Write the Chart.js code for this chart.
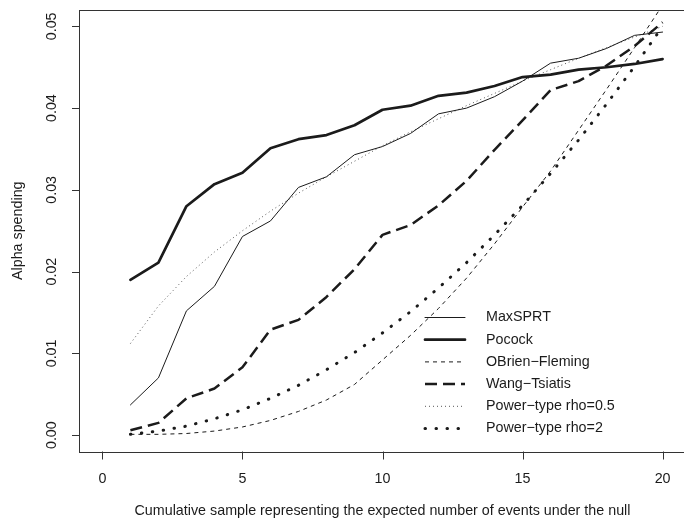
<!DOCTYPE html>
<html>
<head>
<meta charset="utf-8">
<script src="https://cdn.jsdelivr.net/npm/chart.js@4/dist/chart.umd.min.js"></script>
<style>
  html, body { margin: 0; padding: 0; background: #fff; overflow: hidden; }
  #wrap { width: 684px; height: 521px; overflow: hidden; }
  canvas { display: block; }
</style>
</head>
<body>
<div id="wrap"><canvas id="c" width="700" height="521"></canvas></div>
<script>
// Cumulative sample (expected number of events under the null)
const events = [1, 2, 3, 4, 5, 6, 7, 8, 9, 10, 11, 12, 13, 14, 15, 16, 17, 18, 19, 20];

// Alpha spent by each design at each look
const maxSPRT = [0.0037, 0.0070, 0.0152, 0.0182, 0.0243, 0.0262, 0.0303, 0.0316, 0.0343, 0.0353,
                 0.0369, 0.0393, 0.0400, 0.0414, 0.0433, 0.0455, 0.0461, 0.0473, 0.0489, 0.0493];
const pocock  = [0.0190, 0.0211, 0.0280, 0.0307, 0.0321, 0.0351, 0.0362, 0.0367, 0.0379, 0.0398,
                 0.0403, 0.0415, 0.0419, 0.0427, 0.0438, 0.0441, 0.0447, 0.0450, 0.0454, 0.0460];
const obrienFleming = [0.0001, 0.0001, 0.0002, 0.0005, 0.0010, 0.0018, 0.0029, 0.0043, 0.0062, 0.0092,
                 0.0122, 0.0155, 0.0192, 0.0234, 0.0279, 0.0323, 0.0373, 0.0423, 0.0474, 0.0526];
const wangTsiatis = [0.0006, 0.0015, 0.0045, 0.0057, 0.0083, 0.0129, 0.0141, 0.0169, 0.0203, 0.0245,
                 0.0257, 0.0281, 0.0311, 0.0349, 0.0385, 0.0422, 0.0433, 0.0452, 0.0476, 0.0505];
const powerRho05 = [0.0112, 0.0158, 0.0194, 0.0224, 0.0250, 0.0274, 0.0296, 0.0316, 0.0335, 0.0354,
                 0.0371, 0.0387, 0.0403, 0.0418, 0.0433, 0.0447, 0.0461, 0.0474, 0.0487, 0.0500];
const powerRho2  = [0.0001, 0.0005, 0.0011, 0.0020, 0.0031, 0.0045, 0.0061, 0.0080, 0.0101, 0.0125,
                 0.0151, 0.0180, 0.0211, 0.0245, 0.0281, 0.0320, 0.0361, 0.0405, 0.0451, 0.0500];

// Axis ticks and labels
const xTicks = [0, 5, 10, 15, 20];
const xTickLabels = ['0', '5', '10', '15', '20'];
const yTicks = [0, 0.01, 0.02, 0.03, 0.04, 0.05];
const yTickLabels = ['0.00', '0.01', '0.02', '0.03', '0.04', '0.05'];
const xTitle = 'Cumulative sample representing the expected number of events under the null';
const yTitle = 'Alpha spending';

const seriesNames = ['MaxSPRT', 'Pocock', 'OBrien\u2212Fleming', 'Wang\u2212Tsiatis',
                     'Power\u2212type rho=0.5', 'Power\u2212type rho=2'];
const seriesValues = [maxSPRT, pocock, obrienFleming, wangTsiatis, powerRho05, powerRho2];

// Line styles per series
const INK = '#1b1b1b';
const styles = [
  { width: 1,   dash: [],       cap: 'round', color: INK },
  { width: 2.7, dash: [],       cap: 'round', color: INK },
  { width: 1,   dash: [4, 4],   cap: 'butt',  color: INK },
  { width: 2.5, dash: [12, 6],  cap: 'butt',  color: INK },
  { width: 1,   dash: [1, 3],   cap: 'butt',  color: '#555' },
  { width: 3,   dash: [0.5, 10.5], cap: 'round', color: INK }
];

const FONT = '14.3px "Liberation Sans", Arial, Helvetica, sans-serif';

const datasets = seriesNames.map((name, i) => ({
  label: name,
  data: events.map((x, k) => ({ x: x, y: seriesValues[i][k] })),
  borderColor: styles[i].color,
  borderWidth: styles[i].width,
  borderDash: styles[i].dash,
  borderCapStyle: styles[i].cap,
  borderJoinStyle: 'round',
  pointRadius: 0,
  pointHoverRadius: 0,
  tension: 0,
  fill: false
}));

// Base-graphics style frame, axes, titles and legend
const framePlugin = {
  id: 'frame',
  afterDraw(chart) {
    const { ctx, chartArea: a, scales: { x, y } } = chart;
    ctx.save();
    ctx.strokeStyle = '#333';
    ctx.lineWidth = 1;
    ctx.setLineDash([]);
    ctx.strokeRect(Math.round(a.left) - 0.5, Math.round(a.top) + 0.5,
                   Math.round(a.right - a.left), Math.round(a.bottom - a.top));

    ctx.beginPath();
    yTicks.forEach(v => {
      const py = Math.round(y.getPixelForValue(v)) + 0.5;
      ctx.moveTo(a.left - 8, py); ctx.lineTo(a.left, py);
    });
    xTicks.forEach(v => {
      const px = Math.round(x.getPixelForValue(v)) + 0.5;
      ctx.moveTo(px, a.bottom); ctx.lineTo(px, a.bottom + 8);
    });
    ctx.stroke();

    ctx.fillStyle = '#1b1b1b';
    ctx.font = FONT;
    ctx.textAlign = 'center';
    ctx.textBaseline = 'middle';
    xTicks.forEach((v, i) => {
      ctx.fillText(xTickLabels[i], x.getPixelForValue(v), 479);
    });
    yTicks.forEach((v, i) => {
      ctx.save();
      ctx.translate(52, y.getPixelForValue(v));
      ctx.rotate(-Math.PI / 2);
      ctx.fillText(yTickLabels[i], 0, 0);
      ctx.restore();
    });

    // axis titles
    ctx.fillText(xTitle, (a.left + a.right) / 2, 511);
    ctx.save();
    ctx.translate(18, (a.top + a.bottom) / 2);
    ctx.rotate(-Math.PI / 2);
    ctx.fillText(yTitle, 0, 0);
    ctx.restore();

    // legend
    const lx0 = 425, lx1 = 465, tx = 486, ly0 = 317.5, step = 22.2;
    ctx.textAlign = 'left';
    seriesNames.forEach((name, i) => {
      const ly = ly0 + i * step;
      const s = styles[i];
      ctx.beginPath();
      ctx.strokeStyle = s.color;
      ctx.lineWidth = s.width;
      ctx.lineCap = s.cap;
      ctx.setLineDash(s.dash);
      ctx.moveTo(lx0, ly); ctx.lineTo(lx1, ly);
      ctx.stroke();
      ctx.fillText(name, tx, ly);
    });
    ctx.restore();
  }
};

new Chart(document.getElementById('c'), {
  type: 'line',
  data: { datasets },
  options: {
    responsive: false,
    animation: false,
    devicePixelRatio: 1,
    layout: { padding: { left: 80, top: 10, right: 15, bottom: 69.5 } },
    plugins: { legend: { display: false }, tooltip: { enabled: false } },
    scales: {
      x: { type: 'linear', min: -0.8, max: 20.8, display: false },
      y: { type: 'linear', min: -0.002, max: 0.052, display: false }
    }
  },
  plugins: [framePlugin]
});
</script>
</body>
</html>
